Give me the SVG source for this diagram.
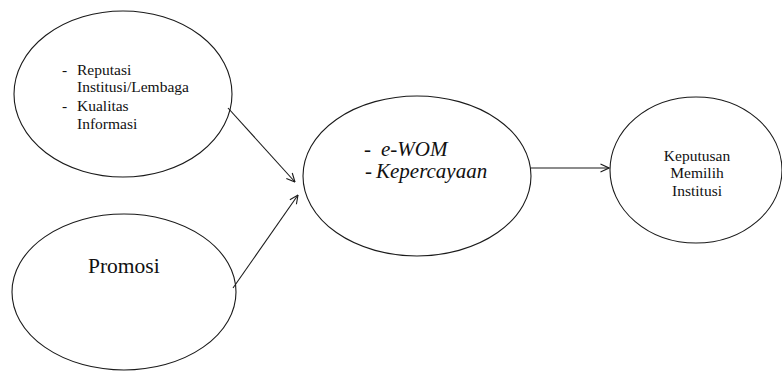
<svg xmlns="http://www.w3.org/2000/svg" width="782" height="372" viewBox="0 0 782 372">
<style>
.node ellipse{fill:#fff;stroke:#1a1a1a;stroke-width:1.1}
text{fill:#111;font-family:"Liberation Serif",serif}
.i{font-style:italic}
.edge{stroke:#1a1a1a;stroke-width:1.1;fill:none}
</style>
<defs>
<marker id="arr" viewBox="0 0 10 10" refX="9.5" refY="5" markerWidth="10" markerHeight="10" markerUnits="userSpaceOnUse" orient="auto">
<path d="M1,1 L9.5,5 L1,9" fill="none" stroke="#1a1a1a" stroke-width="1.1"/>
</marker>
</defs>
<rect width="782" height="372" fill="#fff"/>
<g id="n1" class="node">
<ellipse cx="123" cy="94" rx="109" ry="83"/>
<text font-size="15.5"><tspan x="62" y="75">-</tspan><tspan x="77" y="75">Reputasi</tspan></text>
<text font-size="15.5" x="77" y="92">Institusi/Lembaga</text>
<text font-size="15.5"><tspan x="62" y="111">-</tspan><tspan x="77" y="111">Kualitas</tspan></text>
<text font-size="15.5" x="77" y="129">Informasi</text>
</g>
<g id="n2" class="node">
<ellipse cx="124" cy="292" rx="112" ry="78"/>
<text font-size="21.5" x="88" y="273">Promosi</text>
</g>
<g id="n3" class="node">
<ellipse cx="417" cy="176" rx="114" ry="80"/>
<text class="i" font-size="21"><tspan x="364" y="156">-</tspan><tspan x="381" y="156">e-WOM</tspan></text>
<text class="i" font-size="21"><tspan x="365" y="178">-</tspan><tspan x="376" y="178">Kepercayaan</tspan></text>
</g>
<g id="n4" class="node">
<ellipse cx="696" cy="170" rx="86" ry="73"/>
<text font-size="15.5" text-anchor="middle"><tspan x="697" y="161">Keputusan</tspan><tspan x="697" y="178">Memilih</tspan><tspan x="697" y="196">Institusi</tspan></text>
</g>
<g id="edges">
<line class="edge" x1="228" y1="108" x2="295" y2="182" marker-end="url(#arr)"/>
<line class="edge" x1="233" y1="288" x2="298" y2="195" marker-end="url(#arr)"/>
<line class="edge" x1="531" y1="168" x2="609" y2="168" marker-end="url(#arr)"/>
</g>
</svg>
